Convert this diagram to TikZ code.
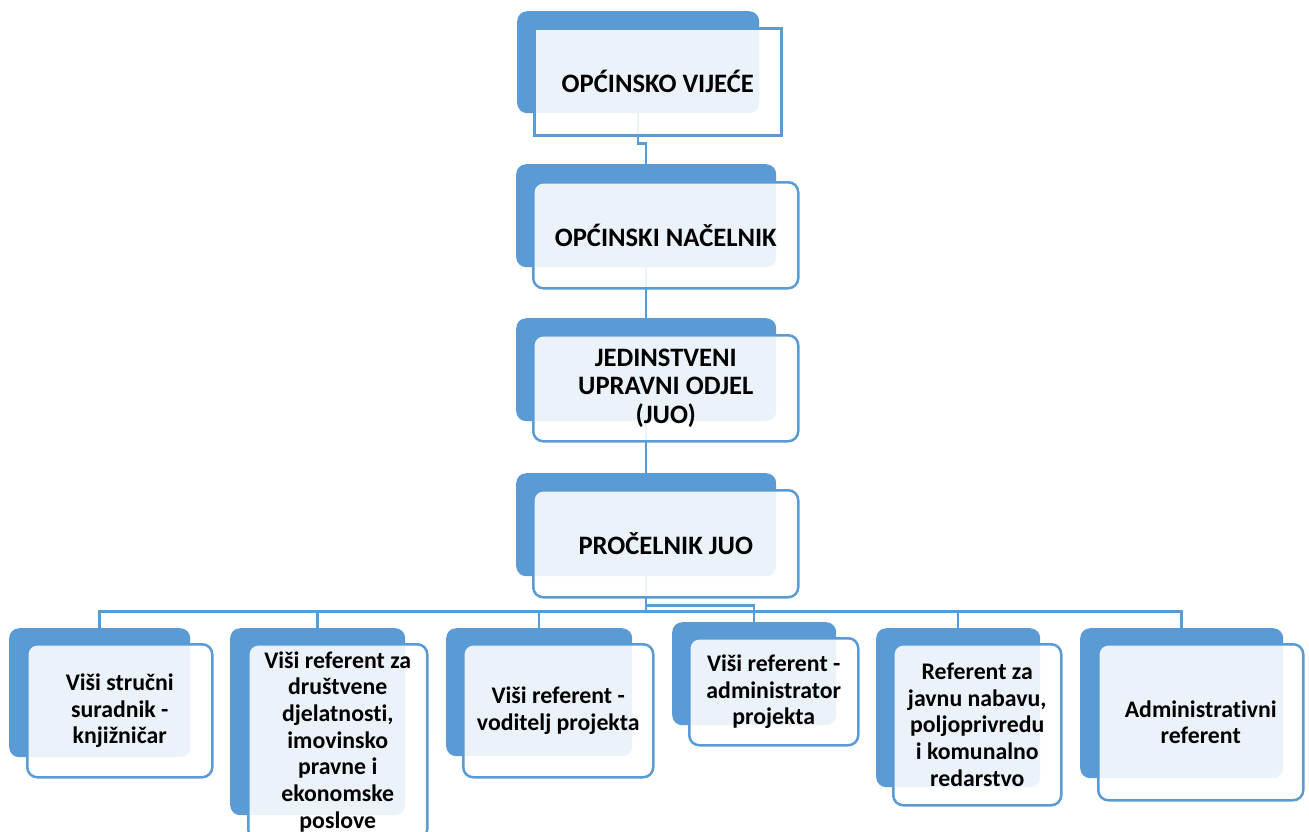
\documentclass[tikz,border=0pt]{standalone}
\usepackage{fontspec}
\setmainfont[Ligatures=NoCommon]{Carlito}
\usetikzlibrary{calc}
\definecolor{smartblue}{HTML}{5B9BD5}
\tikzset{
	backbox/.style={fill=smartblue, rounded corners=10pt, inner sep=0pt, anchor=north west},
	frontbox/.style={draw=smartblue, line width=2.5pt, fill=white, fill opacity=0.88, text opacity=1, rounded corners=10pt, inner sep=0pt, anchor=north west, align=center},
	bigtext/.style={font=\fontsize{26.6pt}{28.5pt}\selectfont\bfseries},
	smalltext/.style={font=\fontsize{23.8pt}{26.7pt}\selectfont\bfseries},
	link/.style={draw=smartblue, line width=2.5pt}
}

\begin{document}
\begin{tikzpicture}[x=1pt, y=-1pt]
				\useasboundingbox (0,0) rectangle (1309,831);
				
				\node[backbox, minimum width=242pt, minimum height=102pt] (ovb) at (517,11) {};
				\node[backbox, minimum width=260pt, minimum height=103pt] (onb) at (516,164) {};
				\node[backbox, minimum width=260pt, minimum height=103pt] (juob) at (516,318) {};
				\node[backbox, minimum width=260pt, minimum height=103pt] (prob) at (516,473) {};
				
				\node[backbox, minimum width=181pt, minimum height=129pt] (c1b) at (9,628) {};
				\node[backbox, minimum width=175pt, minimum height=187pt] (c2b) at (230,628) {};
				\node[backbox, minimum width=186pt, minimum height=128pt] (c3b) at (446,628) {};
				\node[backbox, minimum width=164pt, minimum height=103pt] (c4b) at (672,622) {};
				\node[backbox, minimum width=164pt, minimum height=159pt] (c5b) at (876,628) {};
				\node[backbox, minimum width=203pt, minimum height=150pt] (c6b) at (1080,628) {};
				
				\draw[link] (ovb.south) -- ++(0,30) -| (onb.north);
				\draw[link] (onb.south) -- (juob.north);
				\draw[link] (juob.south) -- (prob.north);
				\draw[link] (prob.south) -- ++(0,35) -| (c1b.north);
				\draw[link] (prob.south) -- ++(0,35) -| (c2b.north);
				\draw[link] (prob.south) -- ++(0,35) -| (c3b.north);
				\draw[link] (prob.south) -- ++(0,29) -| (c4b.north);
				\draw[link] (prob.south) -- ++(0,35) -| (c5b.north);
				\draw[link] (prob.south) -- ++(0,35) -| (c6b.north);
				
				\node[frontbox, bigtext, sharp corners, minimum width=247pt, minimum height=107pt] (ov) at (533,27) {OPĆINSKO VIJEĆE};
				\node[frontbox, bigtext, minimum width=265pt, minimum height=106pt] (on) at (532,181) {OPĆINSKI NAČELNIK};
				\node[frontbox, bigtext, minimum width=265pt, minimum height=106pt] (juo) at (532,334) {JEDINSTVENI\\UPRAVNI ODJEL\\(JUO)};
				\node[frontbox, bigtext, minimum width=265pt, minimum height=107pt] (pro) at (532,489) {PROČELNIK JUO};
				
				\node[frontbox, smalltext, minimum width=185pt, minimum height=133pt] (c1) at (26,643) {Viši stručni\\suradnik -\\knjižničar};
				\node[frontbox, smalltext, minimum width=179pt, minimum height=195pt] (c2) at (247,643) {Viši referent za\\društvene\\djelatnosti,\\imovinsko\\pravne i\\ekonomske\\poslove};
				\node[frontbox, smalltext, minimum width=190pt, minimum height=133pt] (c3) at (462,643) {Viši referent -\\voditelj projekta};
				\node[frontbox, smalltext, minimum width=169pt, minimum height=107pt] (c4) at (688,637) {Viši referent -\\administrator\\projekta};
				\node[frontbox, smalltext, minimum width=168pt, minimum height=161pt] (c5) at (892,643) {Referent za\\javnu nabavu,\\poljoprivredu\\i komunalno\\redarstvo};
				\node[frontbox, smalltext, minimum width=205pt, minimum height=156pt] (c6) at (1097,643) {Administrativni\\referent};
			\end{tikzpicture}
\end{document}
